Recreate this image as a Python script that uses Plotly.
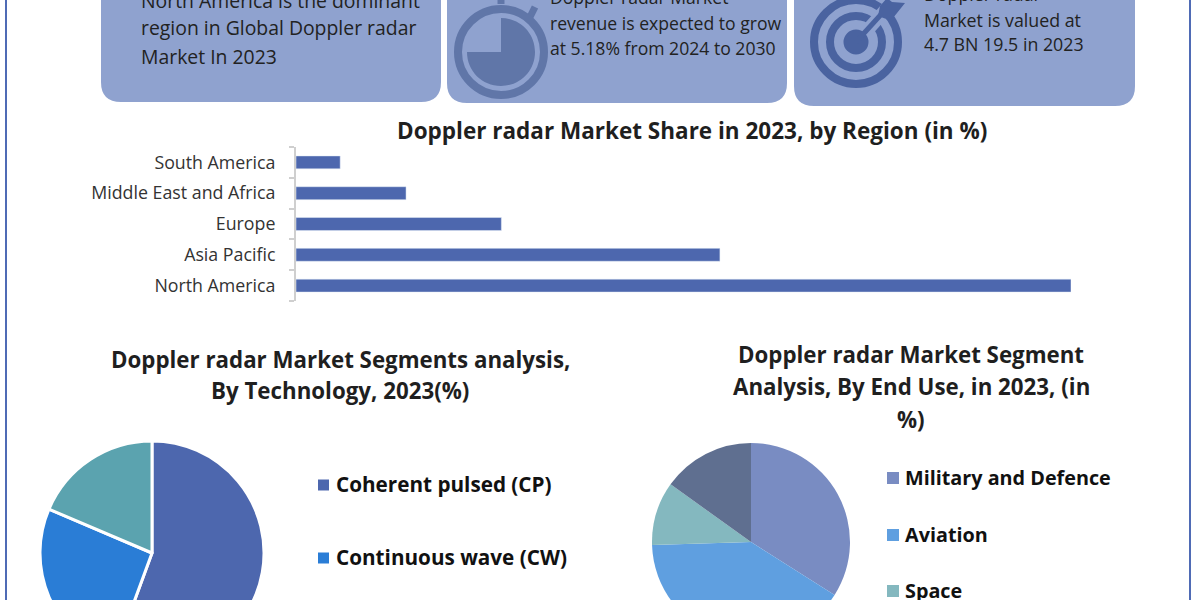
import plotly.graph_objects as go

# ---- data ----
regions = ["North America", "Asia Pacific", "Europe", "Middle East and Africa", "South America"]
region_share = [50.0, 27.35, 13.25, 7.1, 2.85]
tech_labels = ["Coherent pulsed (CP)", "Continuous wave (CW)", "Other"]
tech_share = [55.6, 25.8, 18.6]
enduse_labels = ["Military and Defence", "Aviation", "Space", "Other"]
enduse_share = [34.0, 40.5, 10.4, 15.1]
tech_legend = ["Coherent pulsed (CP)", "Continuous wave (CW)"]
enduse_legend = ["Military and Defence", "Aviation", "Space"]
bar_title = "Doppler radar Market Share in 2023, by Region (in %)"
tech_title = ["Doppler radar Market Segments analysis,", "By Technology, 2023(%)"]
enduse_title = ["Doppler radar Market Segment", "Analysis, By End Use, in 2023, (in", "%)"]
card1 = ["North America is the dominant", "region in Global Doppler radar", "Market In 2023"]
card2 = ["Doppler radar Market", "revenue is expected to grow", "at 5.18% from 2024 to 2030"]
card3 = ["Doppler radar", "Market is valued at", "4.7 BN 19.5 in 2023"]

# ---- styles ----
W, H = 1200, 720  # taller than the window: the pies run off the bottom edge
FONT = "Open Sans"
CARD = "#8FA2CF"
TECH_COLORS = ["#4D67AE", "#2A7DD6", "#5BA3AF"]
END_COLORS = ["#798CC2", "#5F9FE0", "#84B8BF", "#5F6F90"]
px = lambda x: x / W
py = lambda y: 1 - y / H

fig = go.Figure()
fig.add_trace(go.Bar(y=regions, x=region_share, orientation="h", marker_color="#4D67AE",
                     width=0.42, showlegend=False))
fig.add_trace(go.Pie(labels=tech_labels, values=tech_share, sort=False, direction="clockwise",
                     rotation=0, textinfo="none", showlegend=False,
                     marker=dict(colors=TECH_COLORS, line=dict(color="white", width=3)),
                     domain=dict(x=[px(40), px(264)], y=[py(665), py(441)])))
fig.add_trace(go.Pie(labels=enduse_labels, values=enduse_share, sort=False, direction="clockwise",
                     rotation=0, textinfo="none", showlegend=False,
                     marker=dict(colors=END_COLORS, line=dict(width=0)),
                     domain=dict(x=[px(652), px(850)], y=[py(641), py(443)])))

shapes, notes = [], []

def card(x0, x1, y1, r=20):
    path = (f"M{px(x0)},{py(-10)} L{px(x1)},{py(-10)} L{px(x1)},{py(y1 - r)} "
            f"Q{px(x1)},{py(y1)} {px(x1 - r)},{py(y1)} L{px(x0 + r)},{py(y1)} "
            f"Q{px(x0)},{py(y1)} {px(x0)},{py(y1 - r)} Z")
    shapes.append(dict(type="path", path=path, xref="paper", yref="paper", fillcolor=CARD,
                       line=dict(width=0), layer="below"))

def circle(cx, cy, r, fill=None, line=None, lw=0):
    shapes.append(dict(type="circle", xref="paper", yref="paper", x0=px(cx - r), x1=px(cx + r),
                       y0=py(cy + r), y1=py(cy - r), fillcolor=fill or "rgba(0,0,0,0)",
                       line=dict(color=line or "rgba(0,0,0,0)", width=lw)))

def seg(x0, y0, x1, y1, color, w):
    shapes.append(dict(type="line", xref="paper", yref="paper", x0=px(x0), x1=px(x1),
                       y0=py(y0), y1=py(y1), line=dict(color=color, width=w)))

def poly(points, color):
    path = "M" + " L".join(f"{px(x)},{py(y)}" for x, y in points) + " Z"
    shapes.append(dict(type="path", path=path, xref="paper", yref="paper", fillcolor=color,
                       line=dict(width=0)))

def text(x, y, s, size, color="#222222", bold=False, anchor="left"):
    shift = -2 if anchor == "left" else 0
    notes.append(dict(x=px(x + shift), y=py(y), xref="paper", yref="paper",
                      text=f"<b>{s}</b>" if bold else s,
                      showarrow=False, xanchor=anchor, yanchor="middle",
                      font=dict(family=FONT, size=size, color=color)))

# frame lines
seg(6, -10, 6, 730, "#4F6BB5", 2)
seg(1190, -10, 1190, 730, "#4F6BB5", 2)

# cards
card(101, 441, 102)
card(447, 787, 103)
card(794, 1135, 106)

# stopwatch icon
SW = "#6076A8"
cx, cy = 501, 52
seg(cx, 4, cx, -2, SW, 7)
seg(cx + 28, 19, cx + 34, 7, SW, 7)
circle(cx, cy, 43, line=SW, lw=8)
rad = 34
shapes.append(dict(type="path", xref="paper", yref="paper", fillcolor=SW, line=dict(width=0),
                   path=(f"M{px(cx)},{py(cy)} L{px(cx)},{py(cy - rad)} "
                         f"C{px(cx + 19)},{py(cy - rad)} {px(cx + rad)},{py(cy - 19)} {px(cx + rad)},{py(cy)} "
                         f"C{px(cx + rad)},{py(cy + 19)} {px(cx + 19)},{py(cy + rad)} {px(cx)},{py(cy + rad)} "
                         f"C{px(cx - 19)},{py(cy + rad)} {px(cx - rad)},{py(cy + 19)} {px(cx - rad)},{py(cy)} Z")))

# target icon
TG = "#4A63A0"
tx, ty = 856, 42
circle(tx, ty, 42, line=TG, lw=8)
circle(tx, ty, 26, line=TG, lw=8)
seg(tx + 8, ty - 8, tx + 40, ty - 44, CARD, 13)
circle(tx, ty, 12.5, fill=TG)
seg(tx, ty, tx + 30, ty - 33, TG, 5)
poly([(tx + 22, ty - 26), (tx + 24, ty - 36), (tx + 31, ty - 44), (tx + 36, ty - 40),
      (tx + 49, ty - 39), (tx + 37, ty - 24), (tx + 33, ty - 22)], TG)

# card text
for s, y in zip(card1, [1, 28, 57]):
    text(141, y, s, 19.4)
for s, y in zip(card2, [-3, 23, 48]):
    text(550, y, s, 17.6)
for s, y in zip(card3, [-6, 20, 44]):
    text(924, y, s, 17.8)

# titles
text(692, 130, bar_title, 22.5, "#1f1f1f", True, "center")
for s, y in zip(tech_title, [359, 391]):
    text(340, y, s, 22.3, "#1f1f1f", True, "center")
for s, y in zip(enduse_title, [354, 386, 419]):
    text(911, y, s, 22.3, "#1f1f1f", True, "center")

# legends
for s, c, y in zip(tech_legend, TECH_COLORS, [484, 557]):
    shapes.append(dict(type="rect", xref="paper", yref="paper", x0=px(318), x1=px(329),
                       y0=py(y + 6.5), y1=py(y - 4.5), fillcolor=c, line=dict(width=0)))
    text(336, y, s, 20.7, "#111111", True)
for s, c, y in zip(enduse_legend, END_COLORS, [477, 534, 590]):
    shapes.append(dict(type="rect", xref="paper", yref="paper", x0=px(887), x1=px(899),
                       y0=py(y + 7), y1=py(y - 5), fillcolor=c, line=dict(width=0)))
    text(905, y, s, 19.8, "#111111", True)

fig.update_layout(
    width=W, height=H, margin=dict(l=0, r=0, t=0, b=0), autosize=False,
    paper_bgcolor="white", plot_bgcolor="white", shapes=shapes, annotations=notes,
    xaxis=dict(domain=[px(296), px(1071)], range=[0, 50], visible=False),
    yaxis=dict(domain=[py(301), py(147)], categoryorder="array", categoryarray=regions,
               showgrid=False, showline=True, linecolor="#CFCFCF", linewidth=2,
               ticks="outside", tickson="boundaries", ticklen=5, tickwidth=2, tickcolor="#CFCFCF",
               ticklabelstandoff=15,
               tickfont=dict(family=FONT, size=17.8, color="#333333"), anchor="x"),
)

fig.write_html("out.html", config=dict(displayModeBar=False), post_script=(
    "document.documentElement.style.overflow='hidden';"
    "document.body.style.overflow='hidden';document.body.style.margin='0';"))
